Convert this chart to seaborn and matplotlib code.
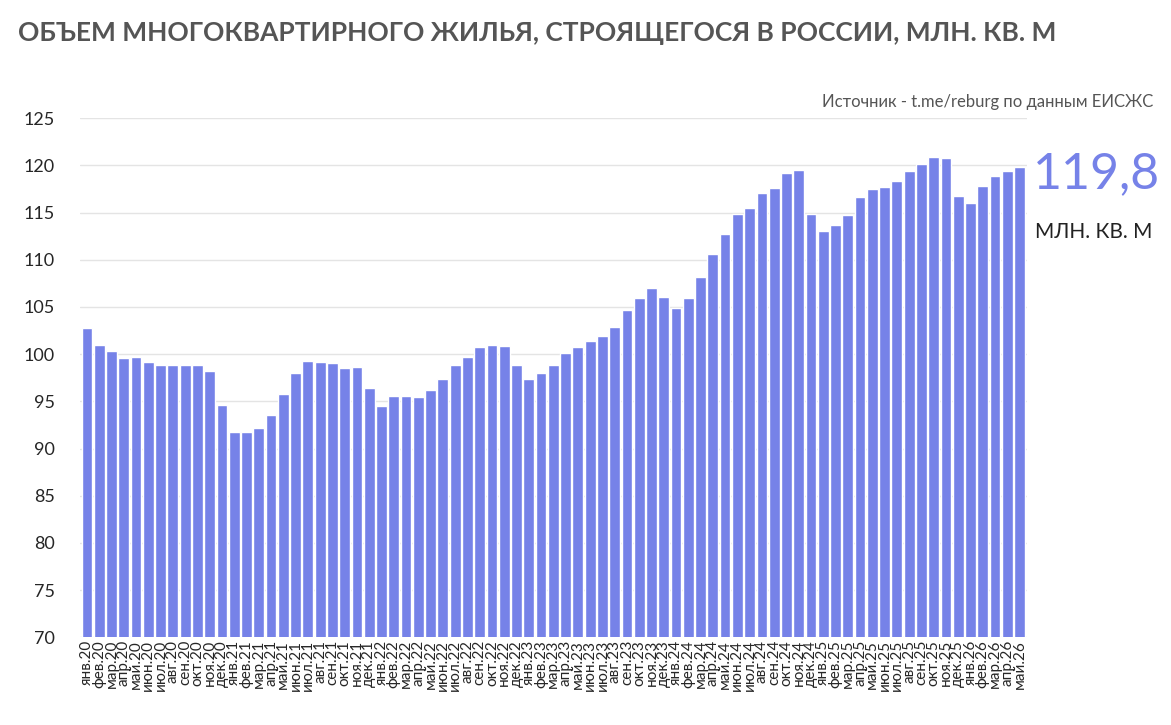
import matplotlib
matplotlib.use("Agg")
import matplotlib.pyplot as plt
import seaborn as sns
import pandas as pd

months = ["янв", "фев", "мар", "апр", "май", "июн", "июл", "авг", "сен", "окт", "ноя", "дек"]
years = ["20", "21", "22", "23", "24", "25", "26"]
labels = [f"{m}.{y}" for y in years for m in months][:77]

values = [
    102.8, 101.0, 100.3, 99.6, 99.7, 99.2, 98.8, 98.9, 98.8, 98.9, 98.2, 94.6,
    91.8, 91.8, 92.2, 93.6, 95.8, 98.0, 99.3, 99.2, 99.1, 98.5, 98.6, 96.4,
    94.5, 95.6, 95.6, 95.5, 96.2, 97.4, 98.8, 99.7, 100.8, 101.0, 100.9, 98.9,
    97.4, 98.0, 98.9, 100.1, 100.8, 101.4, 101.9, 102.9, 104.7, 106.0, 107.0, 106.1,
    104.9, 105.9, 108.2, 110.6, 112.7, 114.8, 115.5, 117.1, 117.6, 119.2, 119.5, 114.8,
    113.0, 113.7, 114.7, 116.6, 117.5, 117.7, 118.3, 119.4, 120.1, 120.9, 120.8, 116.8,
    116.0, 117.8, 118.9, 119.4, 119.8,
]
yticks = list(range(70, 126, 5))

BAR = "#7682e8"
df = pd.DataFrame({"month": labels, "value": values})

sns.set_style("white")
plt.rcParams["font.family"] = ["Lato", "DejaVu Sans"]

fig = plt.figure(figsize=(11.71, 7.25), dpi=100)
ax = fig.add_axes([0.068, 0.121, 0.809, 0.716])
sns.barplot(data=df, x="month", y="value", color=BAR, saturation=1, width=0.88, ax=ax)

ax.set_ylim(70, 125)
ax.set_yticks(yticks)
ax.yaxis.grid(True, color="#e4e4e4", linewidth=1)
ax.set_axisbelow(True)
ax.set_xlabel("")
ax.set_ylabel("")
for s in ax.spines.values():
    s.set_visible(False)
ax.tick_params(axis="y", length=0, labelsize=13, pad=18)
ax.tick_params(axis="x", length=0, labelsize=11, pad=2, rotation=90)
ax.set_xlim(-0.6, len(values) - 0.4)

fig.text(0.015, 0.955, "ОБЪЕМ МНОГОКВАРТИРНОГО ЖИЛЬЯ, СТРОЯЩЕГОСЯ В РОССИИ, МЛН. КВ. М",
         fontsize=19, fontweight="bold", color="#555555", va="center")
fig.text(0.985, 0.86, "Источник - t.me/reburg по данным ЕИСЖС",
         fontsize=12, color="#555555", ha="right", va="center")
fig.text(0.882, 0.76, f"{values[-1]:.1f}".replace(".", ","),
         fontsize=36, color=BAR, va="center")
fig.text(0.884, 0.68, "МЛН. КВ. М", fontsize=15, color="#222222", va="center")

fig.savefig("out.png", dpi=100)
